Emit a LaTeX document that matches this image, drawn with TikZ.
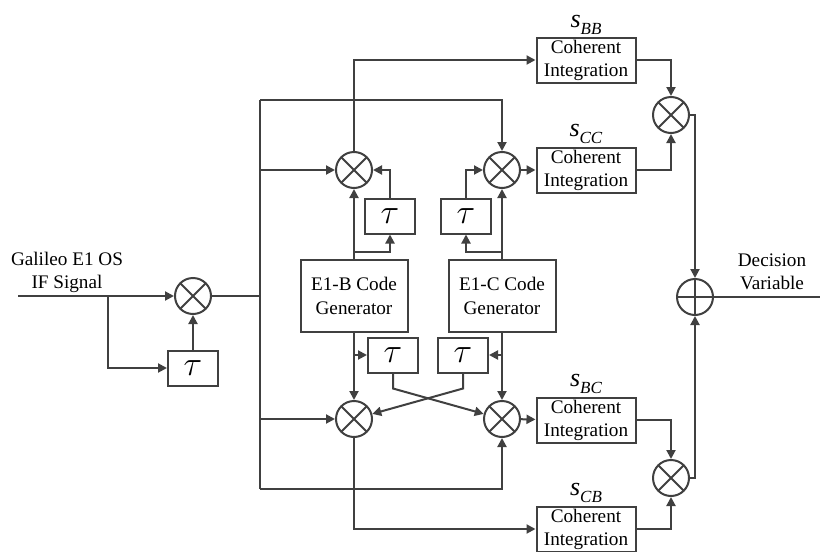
\documentclass[tikz,border=0pt]{standalone}
\usepackage{fontspec}
\setmainfont{Liberation Serif}
\usepackage{tikz}
\usetikzlibrary{
  arrows.meta,
  positioning
}
\definecolor{linegray}{HTML}{404040}
\newcommand{\slbl}[1]{\textit{s}\raisebox{-3.5pt}{\fontsize{8.5}{9}\selectfont\textit{#1}}}
\tikzset{
  blockbox/.style={
    draw=linegray,
    line width=1pt,
    inner sep=0pt,
    align=center,
    font=\fontsize{9.6}{11.5}\selectfont,
  },
  taubox/.style={
    blockbox,
    minimum width=25pt,
    minimum height=17.5pt,
    font=\fontsize{17}{17}\selectfont,
  },
  intbox/.style={
    blockbox,
    minimum width=49.5pt,
    minimum height=22.5pt,
  },
  genbox/.style={
    blockbox,
    minimum width=53.5pt,
    minimum height=36pt,
    font=\fontsize{9.6}{12}\selectfont,
  },
  mixer/.style={
    circle,
    draw=linegray,
    line width=1pt,
    inner sep=0pt,
    minimum size=18pt,
    path picture={
      \draw[linegray, line width=1pt]
        (path picture bounding box.north west) -- (path picture bounding box.south east)
        (path picture bounding box.north east) -- (path picture bounding box.south west);
    },
  },
  adder/.style={
    circle,
    draw=linegray,
    line width=1pt,
    inner sep=0pt,
    minimum size=18pt,
    path picture={
      \draw[linegray, line width=1pt]
        (path picture bounding box.north) -- (path picture bounding box.south)
        (path picture bounding box.west) -- (path picture bounding box.east);
    },
  },
  lbl/.style={
    align=center,
    inner sep=0pt,
    font=\fontsize{13}{13}\selectfont,
  },
  txt/.style={
    align=center,
    inner sep=0pt,
    font=\fontsize{9.6}{11.5}\selectfont,
  },
  arr/.style={
    -{Triangle[length=4.5pt,width=4.5pt]},
    line width=1pt,
    draw=linegray,
  },
  wire/.style={
    line width=1pt,
    draw=linegray,
  },
}

\begin{document}
\begin{tikzpicture}[x=0.5pt, y=-0.5pt]
  \useasboundingbox (0,0) rectangle (820,552);

  % --- Input and delay-multiply ---
  \coordinate (in) at (18,296);
  \coordinate (br0) at (108,296);
  \node[mixer] (mix0) at (193,296) {};
  \node[taubox] (tau0) at (193,368) {$\tau$};
  \node[txt] (inlbl) at (67,272) {Galileo E1 OS\\IF Signal};

  \draw[arr] (in) -- (mix0);
  \draw[arr] (br0) |- (tau0);
  \draw[arr] (tau0) -- (mix0);

  % --- Bus ---
  \coordinate (bustop) at (260,100);
  \coordinate (busbot) at (260,489);
  \draw[wire] (mix0) -- (mix0 -| bustop);
  \draw[wire] (bustop) -- (busbot);

  % --- Code generators and delays ---
  \node[genbox] (genB) at (354,296) {E1-B Code\\Generator};
  \node[genbox] (genC) at (502,296) {E1-C Code\\Generator};
  \node[taubox] (tauB1) at (390,216) {$\tau$};
  \node[taubox] (tauC1) at (466,216) {$\tau$};
  \node[taubox] (tauB2) at (393,355) {$\tau$};
  \node[taubox] (tauC2) at (463,355) {$\tau$};

  % --- Correlators ---
  \node[mixer] (mix1) at (354,170) {};
  \node[mixer] (mix2) at (502,170) {};
  \node[mixer] (mix3) at (354,419) {};
  \node[mixer] (mix4) at (502,419) {};

  \draw[arr] (bustop) -| (mix2);
  \draw[arr] (bustop |- mix1) -- (mix1);
  \draw[arr] (busbot |- mix3) -- (mix3);
  \draw[arr] (busbot) -| (mix4);

  \coordinate (jB) at (354,252);
  \coordinate (jC) at (502,252);
  \draw[arr] (genB) -- (mix1);
  \draw[arr] (jB) -| (tauB1);
  \draw[arr] (tauB1) |- (mix1);
  \draw[arr] (genC) -- (mix2);
  \draw[arr] (jC) -| (tauC1);
  \draw[arr] (tauC1) |- (mix2);

  \coordinate (kB) at (354,355);
  \coordinate (kC) at (502,355);
  \draw[arr] (genB) -- (mix3);
  \draw[arr] (kB) -- (tauB2);
  \draw[arr] (genC) -- (mix4);
  \draw[arr] (kC) -- (tauC2);
  \draw[arr] (tauB2.south) -- ++(0,15) -- (mix4);
  \draw[arr] (tauC2.south) -- ++(0,15) -- (mix3);

  % --- Coherent integration ---
  \node[intbox] (ciBB) at (586,60) {Coherent\\Integration};
  \node[intbox] (ciCC) at (586,170) {Coherent\\Integration};
  \node[intbox] (ciBC) at (586,420) {Coherent\\Integration};
  \node[intbox] (ciCB) at (586,529) {Coherent\\Integration};
  \node[lbl, above=1pt of ciBB] (sBB) {\slbl{BB}};
  \node[lbl, above=1pt of ciCC] (sCC) {\slbl{CC}};
  \node[lbl, above=1pt of ciBC] (sBC) {\slbl{BC}};
  \node[lbl, above=1pt of ciCB] (sCB) {\slbl{CB}};

  \draw[arr] (mix1) |- (ciBB);
  \draw[arr] (mix2) -- (ciCC);
  \draw[arr] (mix4) -- (ciBC);
  \draw[arr] (mix3) |- (ciCB);

  % --- Combining ---
  \node[mixer] (mix5) at (671,115) {};
  \node[mixer] (mix6) at (671,478) {};
  \node[adder] (add) at (695,297) {};
  \coordinate (out) at (820,297);
  \node[txt] (outlbl) at (772,272) {Decision\\Variable};

  \draw[arr] (ciBB) -| (mix5);
  \draw[arr] (ciCC) -| (mix5);
  \draw[arr] (ciBC) -| (mix6);
  \draw[arr] (ciCB) -| (mix6);
  \draw[arr] (mix5) -| (add);
  \draw[arr] (mix6) -| (add);
  \draw[wire] (add) -- (out);
\end{tikzpicture}
\end{document}
